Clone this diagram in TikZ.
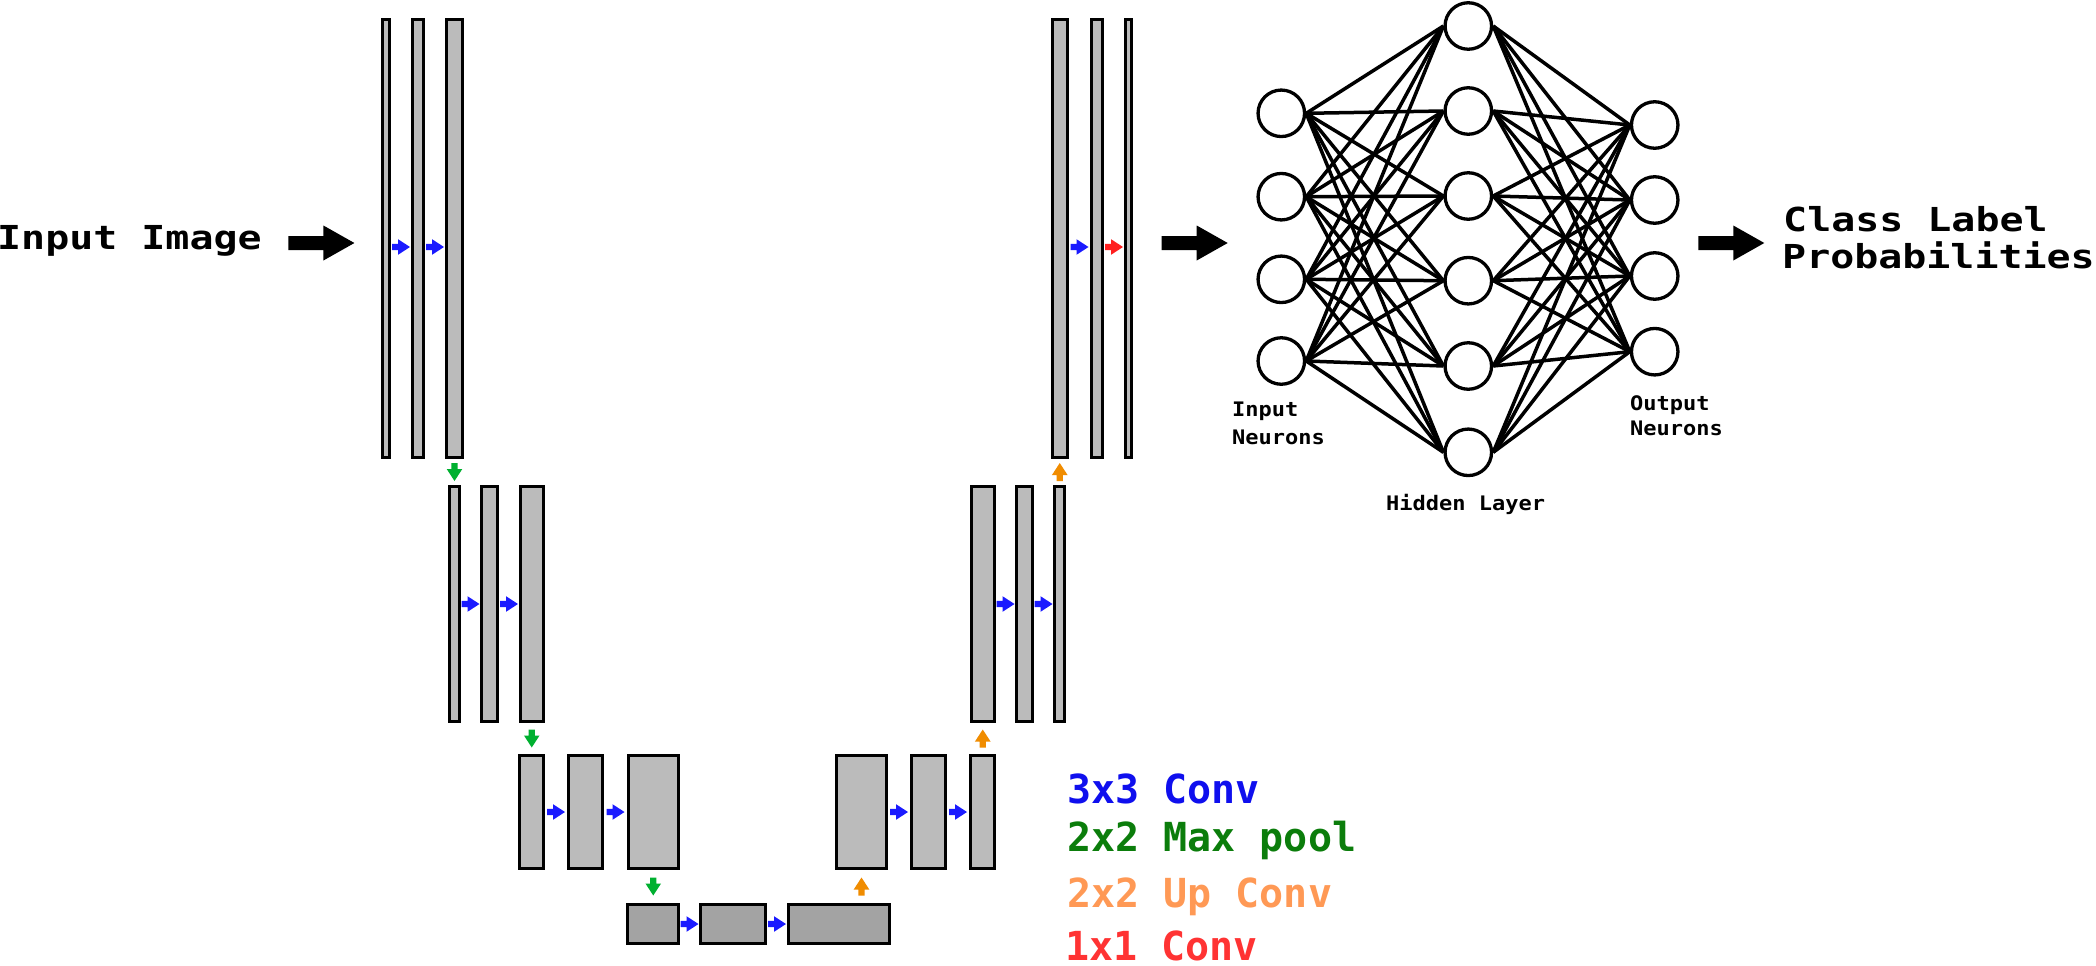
\documentclass[tikz,border=0pt]{standalone}
\usepackage{fontspec}
\usetikzlibrary{calc}
\newfontfamily\bigfont[FakeStretch=1.21]{DejaVu Sans Mono}
\newfontfamily\smlfont[FakeStretch=1.1]{DejaVu Sans Mono}
\newfontfamily\legfont{DejaVu Sans Mono}
\definecolor{barfill}{HTML}{BBBBBB}
\definecolor{botfill}{HTML}{A3A3A3}
\definecolor{ablue}{HTML}{1A1AFF}
\definecolor{agreen}{HTML}{00B030}
\definecolor{aorange}{HTML}{F08C00}
\definecolor{ared}{HTML}{FF1F1F}
\definecolor{lblue}{HTML}{0F0FEE}
\definecolor{lgreen}{HTML}{0B7D0B}
\definecolor{lorange}{HTML}{FF9955}
\definecolor{lred}{HTML}{FF3333}
\pgfdeclarelayer{back}
\pgfdeclarelayer{bg}
\pgfsetlayers{back,bg,main}
\newcommand\mkbar[6]{\node[barst,fill=#6,minimum width={#3-#2-3.3},minimum height={#5-#4-3.3},anchor=north west] (#1) at (#2,#4) {};}
\tikzset{
  barst/.style={draw=black,line width=3.3,rectangle,inner sep=0},
  neuron/.style={circle,draw=black,line width=3.3,fill=white,minimum size=46.5,inner sep=0},
  edge/.style={draw=black,line width=3.5},
  bigtxt/.style={font=\bigfont\bfseries\fontsize{33}{38}\selectfont,inner sep=0,anchor=base west},
  smltxt/.style={font=\smlfont\bfseries\fontsize{20}{24}\selectfont,inner sep=0,anchor=base west},
  legtxt/.style={font=\legfont\bfseries\fontsize{40}{48}\selectfont,inner sep=0,anchor=base west},
  arrR/.style={to path={($(\tikztostart)!.5!(\tikztotarget)+(-9,-3.2)$) -- ++(6,0) -- ++(0,-4.6) -- ++(12,7.8) -- ++(-12,7.8) -- ++(0,-4.6) -- ++(-6,0) -- cycle}},
  arrD/.style={to path={($(\tikztostart)!.5!(\tikztotarget)+(-3.2,-9)$) -- ++(0,6) -- ++(-4.6,0) -- ++(7.8,12) -- ++(7.8,-12) -- ++(-4.6,0) -- ++(0,-6) -- cycle}},
  arrU/.style={to path={($(\tikztostart)!.5!(\tikztotarget)+(-3.2,9)$) -- ++(0,-6) -- ++(-4.6,0) -- ++(7.8,-12) -- ++(7.8,12) -- ++(-4.6,0) -- ++(0,6) -- cycle}},
  bigR/.style={to path={($(\tikztostart)!.5!(\tikztotarget)+(-33,-7)$) -- ++(35,0) -- ++(0,-10.5) -- ++(31,17.5) -- ++(-31,17.5) -- ++(0,-10.5) -- ++(-35,0) -- cycle}}
}
\begin{document}
\begin{tikzpicture}[x=1pt,y=-1pt]
\useasboundingbox (0,0) rectangle (2096,966);
\begin{pgfonlayer}{back}
\fill[white] (0,0) rectangle (2096,966);
\end{pgfonlayer}
% row levels
\coordinate (ya) at (0,247);
\coordinate (yb) at (0,604);
\coordinate (yc) at (0,812);
\coordinate (yd) at (0,924);
\coordinate (yt) at (0,243);
% encoder
\mkbar{L1a}{381}{391}{18}{459}{barfill}
\mkbar{L1b}{411}{425}{18}{459}{barfill}
\mkbar{L1c}{445}{464}{18}{459}{barfill}
\mkbar{L2a}{448}{461}{485}{723}{barfill}
\mkbar{L2b}{480}{499}{485}{723}{barfill}
\mkbar{L2c}{519}{545}{485}{723}{barfill}
\mkbar{L3a}{518}{545}{754}{870}{barfill}
\mkbar{L3b}{567}{604}{754}{870}{barfill}
\mkbar{L3c}{627}{680}{754}{870}{barfill}
% bottleneck
\mkbar{B1}{626}{680}{903}{945}{botfill}
\mkbar{B2}{699}{767}{903}{945}{botfill}
\mkbar{B3}{787}{891}{903}{945}{botfill}
% decoder
\mkbar{R3a}{835}{888}{754}{870}{barfill}
\mkbar{R3b}{910}{947}{754}{870}{barfill}
\mkbar{R3c}{969}{996}{754}{870}{barfill}
\mkbar{R2a}{970}{996}{485}{723}{barfill}
\mkbar{R2b}{1015}{1034}{485}{723}{barfill}
\mkbar{R2c}{1053}{1066}{485}{723}{barfill}
\mkbar{R1a}{1051}{1069}{18}{459}{barfill}
\mkbar{R1b}{1090}{1104}{18}{459}{barfill}
\mkbar{R1c}{1124}{1133}{18}{459}{barfill}
% 3x3 conv arrows
\path[arrR,fill=ablue] (L1a.east |- ya) to (L1b.west |- ya);
\path[arrR,fill=ablue] (L1b.east |- ya) to (L1c.west |- ya);
\path[arrR,fill=ablue] (L2a.east |- yb) to (L2b.west |- yb);
\path[arrR,fill=ablue] (L2b.east |- yb) to (L2c.west |- yb);
\path[arrR,fill=ablue] (L3a.east |- yc) to (L3b.west |- yc);
\path[arrR,fill=ablue] (L3b.east |- yc) to (L3c.west |- yc);
\path[arrR,fill=ablue] (B1.east |- yd) to (B2.west |- yd);
\path[arrR,fill=ablue] (B2.east |- yd) to (B3.west |- yd);
\path[arrR,fill=ablue] (R3a.east |- yc) to (R3b.west |- yc);
\path[arrR,fill=ablue] (R3b.east |- yc) to (R3c.west |- yc);
\path[arrR,fill=ablue] (R2a.east |- yb) to (R2b.west |- yb);
\path[arrR,fill=ablue] (R2b.east |- yb) to (R2c.west |- yb);
\path[arrR,fill=ablue] (R1a.east |- ya) to (R1b.west |- ya);
% 1x1 conv
\path[arrR,fill=ared] (R1b.east |- ya) to (R1c.west |- ya);
% max pool
\path[arrD,fill=agreen] (L1c.south) to (L2a.north);
\path[arrD,fill=agreen] (L2c.south) to (L3a.north);
\path[arrD,fill=agreen] (L3c.south) to (B1.north);
% up conv
\path[arrU,fill=aorange] (B3.north -| R3a.south) to (R3a.south);
\path[arrU,fill=aorange] (R3c.north) to (R2a.south);
\path[arrU,fill=aorange] (R2c.north) to (R1a.south);
% texts
\node[bigtxt] (intext) at (-3,249.5) {Input Image};
\node[bigtxt] (cl1) at (1783,231) {Class Label};
\node[bigtxt] (cl2) at (1782,268) {Probabilities};
% neural network
\foreach \n/\y in {1/113.3,2/196.7,3/279.3,4/361} \node[neuron] (i\n) at (1281.3,\y) {};
\foreach \n/\y in {1/26,2/111,3/196,4/280.7,5/366,6/452.3} \node[neuron] (h\n) at (1468.3,\y) {};
\foreach \n/\y in {1/125,2/200,3/276,4/351.7} \node[neuron] (o\n) at (1654.7,\y) {};
\begin{pgfonlayer}{bg}
\foreach \a in {1,...,4} \foreach \b in {1,...,6} \draw[edge] (i\a.east) -- (h\b.west);
\foreach \b in {1,...,6} \foreach \c in {1,...,4} \draw[edge] (h\b.east) -- (o\c.west);
\end{pgfonlayer}
\node[smltxt] (inl1) at (1232,416.5) {Input};
\node[smltxt] (inl2) at (1232,444) {Neurons};
\node[smltxt] (hidl) at (1386,510.7) {Hidden Layer};
\node[smltxt] (outl1) at (1630,410) {Output};
\node[smltxt] (outl2) at (1630,435) {Neurons};
% big arrows
\path[bigR,fill=black] (intext.east |- yt) to (L1a.west |- yt);
\path[bigR,fill=black] (R1c.east |- yt) to (i1.west |- yt);
\path[bigR,fill=black] (o1.east |- yt) to (cl1.west |- yt);
% legend
\node[legtxt,text=lblue] (lg1) at (1067,803.3) {3x3 Conv};
\node[legtxt,text=lgreen] (lg2) at (1067,851.7) {2x2 Max pool};
\node[legtxt,text=lorange] (lg3) at (1067,907) {2x2 Up Conv};
\node[legtxt,text=lred] (lg4) at (1065,960.5) {1x1 Conv};
\end{tikzpicture}
\end{document}
